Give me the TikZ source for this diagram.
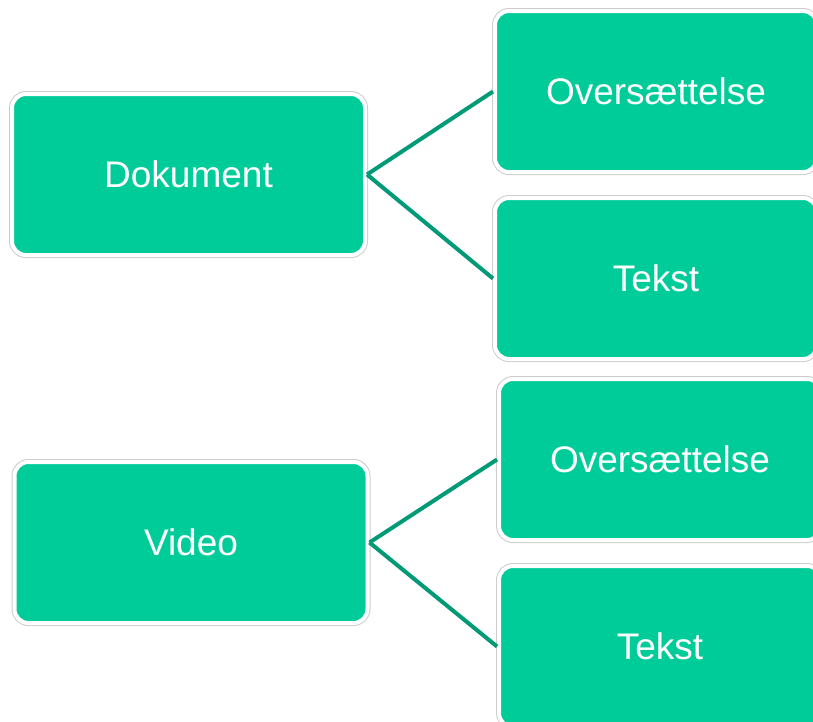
\documentclass[tikz,border=0pt]{standalone}
\usepackage{fontspec}
\setmainfont{Liberation Sans}
\definecolor{boxgreen}{RGB}{0,204,153}
\definecolor{linkgreen}{RGB}{0,155,118}
\definecolor{rimgray}{RGB}{205,205,205}
\begin{document}
\begin{tikzpicture}[x=1pt,y=-1pt,
  box/.style={rectangle, rounded corners=14pt, fill=boxgreen, draw=white,
    line width=4pt, preaction={draw=rimgray, line width=6pt},
    minimum width=353pt, minimum height=161pt, inner sep=0pt, outer sep=2pt,
    text=white, font=\fontsize{37}{40}\selectfont},
  rbox/.style={box, minimum width=322pt},
  link/.style={draw=linkgreen, line width=4pt}]
\useasboundingbox (0,0) rectangle (813,721);
\clip (0,0) rectangle (813,721);
% first group
\node[box]  (dok)  at (188.5,174.5) {Dokument};
\node[rbox] (ov1)  at (656,91.5)    {Oversættelse};
\node[rbox] (tek1) at (656,278.5)   {Tekst};
% second group
\node[box]  (vid)  at (191,542.5)   {Video};
\node[rbox] (ov2)  at (660,459.5)   {Oversættelse};
\node[rbox] (tek2) at (660,646.5)   {Tekst};
% connectors
\draw[link] (dok.east) -- (ov1.west);
\draw[link] (dok.east) -- (tek1.west);
\draw[link] (vid.east) -- (ov2.west);
\draw[link] (vid.east) -- (tek2.west);
\end{tikzpicture}
\end{document}
